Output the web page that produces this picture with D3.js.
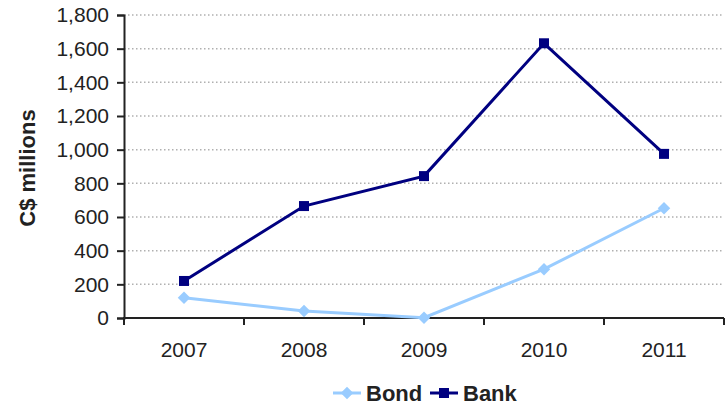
<!DOCTYPE html>
<html>
<head>
<script src="https://cdnjs.cloudflare.com/ajax/libs/d3/7.8.5/d3.min.js"></script>
<style>
  body { margin: 0; background: #fff; }
  text { font-family: "Liberation Sans", Arial, sans-serif; fill: #222; }
</style>
</head>
<body>
<div id="chart"></div>
<script>
var years = ["2007", "2008", "2009", "2010", "2011"];
var bond = [120, 42, 2, 290, 652];
var bank = [220, 665, 843, 1632, 975];
var yTicks = [0, 200, 400, 600, 800, 1000, 1200, 1400, 1600, 1800];

var width = 726, height = 405;
var plotL = 124, plotR = 724, plotT = 15, plotB = 318;

var svg = d3.select("#chart").append("svg")
  .attr("width", width)
  .attr("height", height);

var x = d3.scaleBand().domain(years).range([plotL, plotR]);
var y = d3.scaleLinear().domain([0, 1800]).range([plotB, plotT]);

// gridlines
svg.selectAll("line.grid")
  .data(yTicks.slice(1))
  .enter().append("line")
  .attr("class", "grid")
  .attr("x1", plotL).attr("x2", plotR)
  .attr("y1", function(d) { return y(d); })
  .attr("y2", function(d) { return y(d); })
  .attr("stroke", "#b0b0b0")
  .attr("stroke-width", 1.5)
  .attr("stroke-dasharray", "1.5,2.5");

// y axis
var yAxis = svg.append("g")
  .attr("transform", "translate(" + plotL + ",0)")
  .call(d3.axisLeft(y).tickValues(yTicks).tickSize(7).tickPadding(8).tickFormat(d3.format(",")));
yAxis.select(".domain").attr("stroke", "#222").attr("stroke-width", 2);
yAxis.selectAll(".tick line").attr("stroke", "#222").attr("stroke-width", 2);
yAxis.selectAll("text").style("font-size", "21px").attr("fill", "#2a2a2a")
  .style("font-family", "Liberation Sans, Arial, sans-serif");

// x axis
var xAxis = svg.append("g")
  .attr("transform", "translate(0," + plotB + ")")
  .call(d3.axisBottom(x).tickSize(0).tickPadding(24));
xAxis.select(".domain").remove();
xAxis.selectAll("text").style("font-size", "21px").attr("fill", "#2a2a2a")
  .style("font-family", "Liberation Sans, Arial, sans-serif");
svg.append("line")
  .attr("x1", plotL - 1).attr("x2", plotR)
  .attr("y1", plotB).attr("y2", plotB)
  .attr("stroke", "#222").attr("stroke-width", 2);
var bounds = [plotL].concat(years.map(function(d) { return x(d) + x.bandwidth(); }));
svg.selectAll("line.xtick")
  .data(bounds)
  .enter().append("line")
  .attr("class", "xtick")
  .attr("x1", function(d) { return d; })
  .attr("x2", function(d) { return d; })
  .attr("y1", plotB).attr("y2", plotB + 7)
  .attr("stroke", "#222").attr("stroke-width", 2);

// y title
svg.append("text")
  .attr("transform", "translate(35,168) rotate(-90)")
  .attr("text-anchor", "middle")
  .style("font-size", "22px")
  .style("font-weight", "bold")
  .text("C$ millions");

var cx = function(d, i) { return x(years[i]) + x.bandwidth() / 2; };
var line = d3.line()
  .x(function(d, i) { return x(years[i]) + x.bandwidth() / 2; })
  .y(function(d) { return y(d); });

var bondColor = "#99ccff", bankColor = "#000080";

svg.append("path").datum(bond)
  .attr("d", line).attr("fill", "none")
  .attr("stroke", bondColor).attr("stroke-width", 3);
svg.append("path").datum(bank)
  .attr("d", line).attr("fill", "none")
  .attr("stroke", bankColor).attr("stroke-width", 3);

var diamond = d3.symbol().type(d3.symbolDiamond2).size(100);
var square = d3.symbol().type(d3.symbolSquare).size(100);

svg.selectAll("path.bondpt")
  .data(bond).enter().append("path")
  .attr("class", "bondpt")
  .attr("d", diamond)
  .attr("transform", function(d, i) { return "translate(" + cx(d, i) + "," + y(d) + ")"; })
  .attr("fill", bondColor);

svg.selectAll("path.bankpt")
  .data(bank).enter().append("path")
  .attr("class", "bankpt")
  .attr("d", square)
  .attr("transform", function(d, i) { return "translate(" + cx(d, i) + "," + y(d) + ")"; })
  .attr("fill", bankColor);

// legend
var legend = [
  { name: "Bond", color: bondColor, sym: diamond, x: 333 },
  { name: "Bank", color: bankColor, sym: square, x: 430 }
];
var lg = svg.selectAll("g.legend").data(legend).enter().append("g")
  .attr("class", "legend")
  .attr("transform", function(d) { return "translate(" + d.x + ",393)"; });
lg.append("line")
  .attr("x1", 0).attr("x2", 28).attr("y1", 0).attr("y2", 0)
  .attr("stroke", function(d) { return d.color; }).attr("stroke-width", 3);
lg.append("path")
  .attr("d", function(d) { return d.sym(); })
  .attr("transform", "translate(14,0)")
  .attr("fill", function(d) { return d.color; });
lg.append("text")
  .attr("x", 33).attr("y", 8)
  .style("font-size", "22px")
  .style("font-weight", "bold")
  .text(function(d) { return d.name; });
</script>
</body>
</html>
